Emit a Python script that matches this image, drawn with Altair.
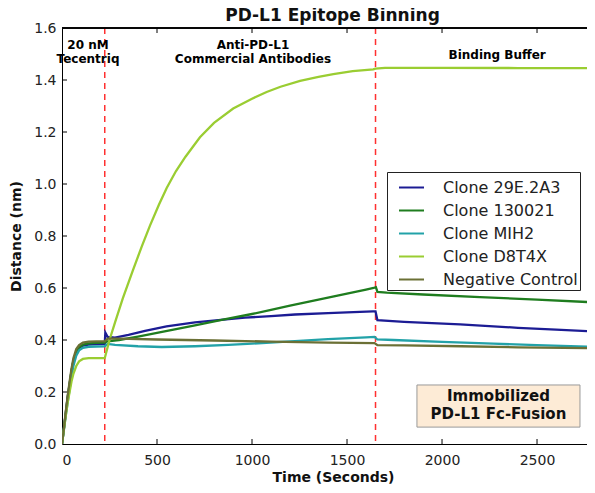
import altair as alt
import pandas as pd

# ---- data ----
series_names = ["Clone 29E.2A3", "Clone 130021", "Clone MIH2", "Clone D8T4X", "Negative Control"]
series_colors = ["#1c1c94", "#1f7d1f", "#22a2a8", "#9acd32", "#6b7035"]

t_29e = [0, 10, 20, 30, 40, 50, 60, 75, 90, 110, 140, 180, 225, 228, 240, 279, 350, 437, 550, 700, 850, 963, 1100, 1226, 1400, 1500, 1637, 1650, 1660, 1800, 2095, 2400, 2600, 2800]
y_29e = [0, 0.06, 0.12, 0.18, 0.23, 0.28, 0.32, 0.355, 0.37, 0.378, 0.382, 0.384, 0.385, 0.428, 0.412, 0.409, 0.42, 0.435, 0.452, 0.468, 0.478, 0.486, 0.492, 0.498, 0.503, 0.506, 0.51, 0.51, 0.476, 0.47, 0.46, 0.447, 0.44, 0.433]

t_130 = [0, 10, 20, 30, 40, 50, 60, 75, 90, 110, 140, 180, 225, 240, 300, 400, 500, 600, 700, 847, 1000, 1100, 1200, 1300, 1400, 1500, 1600, 1640, 1652, 1660, 1709, 1900, 2200, 2500, 2800]
y_130 = [0, 0.06, 0.12, 0.18, 0.23, 0.28, 0.32, 0.355, 0.372, 0.382, 0.387, 0.389, 0.39, 0.395, 0.40, 0.413, 0.427, 0.442, 0.456, 0.478, 0.50, 0.516, 0.532, 0.548, 0.563, 0.578, 0.594, 0.60, 0.603, 0.585, 0.582, 0.575, 0.565, 0.555, 0.545]

t_mih = [0, 10, 20, 30, 40, 50, 60, 75, 90, 110, 140, 180, 225, 240, 279, 400, 525, 700, 875, 1000, 1226, 1400, 1600, 1645, 1660, 1744, 2000, 2270, 2500, 2800]
y_mih = [0, 0.055, 0.11, 0.16, 0.21, 0.26, 0.30, 0.34, 0.36, 0.37, 0.374, 0.375, 0.376, 0.385, 0.381, 0.376, 0.373, 0.376, 0.381, 0.386, 0.396, 0.403, 0.41, 0.412, 0.402, 0.40, 0.393, 0.386, 0.38, 0.374]

t_d8 = [0, 10, 20, 30, 40, 50, 60, 75, 90, 110, 140, 225, 232, 250, 280, 320, 374, 420, 463, 510, 551, 600, 650, 726, 800, 901, 1000, 1077, 1150, 1253, 1350, 1428, 1530, 1638, 1650, 1700, 2000, 2400, 2800]
y_d8 = [0, 0.055, 0.11, 0.16, 0.20, 0.24, 0.27, 0.30, 0.318, 0.327, 0.33, 0.33, 0.35, 0.40, 0.47, 0.56, 0.67, 0.76, 0.84, 0.92, 0.985, 1.05, 1.105, 1.18, 1.235, 1.29, 1.328, 1.354, 1.374, 1.397, 1.412, 1.423, 1.434, 1.441, 1.444, 1.447, 1.447, 1.446, 1.446]

t_neg = [0, 10, 20, 30, 40, 50, 60, 75, 90, 110, 140, 180, 225, 240, 300, 500, 800, 1100, 1400, 1645, 1660, 1800, 2100, 2400, 2800]
y_neg = [0, 0.06, 0.125, 0.185, 0.24, 0.29, 0.33, 0.365, 0.38, 0.39, 0.394, 0.395, 0.395, 0.405, 0.405, 0.402, 0.398, 0.394, 0.39, 0.388, 0.38, 0.379, 0.376, 0.372, 0.368]

phase_bounds = [225, 1650]
x_ticks = [0, 500, 1000, 1500, 2000, 2500]
y_ticks = [0.0, 0.2, 0.4, 0.6, 0.8, 1.0, 1.2, 1.4, 1.6]
x_inner_ticks = [500, 1000, 1500, 2000, 2500]
y_inner_ticks = [0.2, 0.4, 0.6, 0.8, 1.0, 1.2, 1.4]

phase_labels = ["20 nM\nTecentriq", "Anti-PD-L1\nCommercial Antibodies", "Binding Buffer"]
box_label = "Immobilized\nPD-L1 Fc-Fusion"

# ---- build table ----
rows = []
for name, ts, ys in zip(series_names, [t_29e, t_130, t_mih, t_d8, t_neg], [y_29e, y_130, y_mih, y_d8, y_neg]):
    for i, (t, y) in enumerate(zip(ts, ys)):
        rows.append({"series": name, "t": t, "y": y, "order": i})
df = pd.DataFrame(rows)

W, H = 525, 416
FONT = "DejaVu Sans"
xs = alt.Scale(domain=[0, 2763], nice=False, zero=False)
ys = alt.Scale(domain=[0, 1.6], nice=False)

lines = alt.Chart(df).mark_line(strokeWidth=2.3, clip=True).encode(
    x=alt.X("t:Q", scale=xs, title="Time (Seconds)",
            axis=alt.Axis(values=x_ticks, format="d", ticks=False, grid=False, titleX=271)),
    y=alt.Y("y:Q", scale=ys, title="Distance (nm)",
            axis=alt.Axis(values=y_ticks, format=".1f", ticks=False, grid=False)),
    color=alt.Color("series:N", sort=series_names,
                    scale=alt.Scale(domain=series_names, range=series_colors),
                    legend=alt.Legend(orient="none", legendX=325, legendY=144, title=None,
                                      symbolType="stroke", symbolStrokeWidth=2, symbolSize=625,
                                      symbolOffset=9, labelOffset=18,
                                      labelFontSize=16, labelFont=FONT, labelColor="#222",
                                      fillColor="white", strokeColor="#222", padding=2,
                                      rowPadding=1, cornerRadius=0)),
    order="order:Q",
)

vlines = alt.Chart(pd.DataFrame({"t": phase_bounds})).mark_rule(
    color="#ff3030", strokeDash=[6, 5], strokeWidth=1.5
).encode(x=alt.X("t:Q", scale=xs))

tick_df_x = pd.DataFrame({"t": x_inner_ticks})
tick_df_y = pd.DataFrame({"v": y_inner_ticks})
bticks = alt.Chart(tick_df_x).mark_rule(color="black").encode(
    x=alt.X("t:Q", scale=xs), y=alt.value(H), y2=alt.value(H - 5))
tticks = alt.Chart(tick_df_x).mark_rule(color="black").encode(
    x=alt.X("t:Q", scale=xs), y=alt.value(0), y2=alt.value(5))
lticks = alt.Chart(tick_df_y).mark_rule(color="black").encode(
    y=alt.Y("v:Q", scale=ys), x=alt.value(0), x2=alt.value(5))
topline = alt.Chart(tick_df_x).mark_rule(color="black").encode(
    x=alt.value(0), x2=alt.value(W), y=alt.value(0))

base_txt = alt.Chart(pd.DataFrame({"a": [0]}))
t1 = base_txt.mark_text(text=phase_labels[0], lineBreak="\n", font=FONT, fontWeight="bold",
                        fontSize=12, align="center", baseline="middle", lineHeight=14).encode(
    x=alt.datum(137, scale=xs), y=alt.datum(1.535, scale=ys))
t2 = base_txt.mark_text(text=phase_labels[1], lineBreak="\n", font=FONT, fontWeight="bold",
                        fontSize=12, align="center", baseline="middle", lineHeight=14).encode(
    x=alt.datum(1005, scale=xs), y=alt.datum(1.535, scale=ys))
t3 = base_txt.mark_text(text=phase_labels[2], font=FONT, fontWeight="bold",
                        fontSize=12, align="center", baseline="middle").encode(
    x=alt.datum(2290, scale=xs), y=alt.datum(1.497, scale=ys))

box = base_txt.mark_rect(fill="#fdebd6", stroke="#999999", strokeWidth=1).encode(
    x=alt.datum(1868, scale=xs), x2=alt.datum(2726),
    y=alt.datum(0.227, scale=ys), y2=alt.datum(0.065))
boxtxt = base_txt.mark_text(text=box_label, lineBreak="\n", font=FONT, fontWeight="bold",
                            fontSize=15, align="center", baseline="middle", lineHeight=18,
                            color="#111").encode(
    x=alt.datum(2297, scale=xs), y=alt.datum(0.185, scale=ys))

chart = alt.layer(vlines, lines, box, boxtxt, t1, t2, t3, bticks, tticks, lticks, topline).properties(
    width=W, height=H,
    title=alt.Title("PD-L1 Epitope Binning", font=FONT, fontSize=17, fontWeight="bold",
                    color="#111", anchor="middle", offset=0, dx=8, dy=4),
    autosize="none",
    padding={"left": 54, "top": 20, "right": 0, "bottom": 41},
).configure_view(stroke=None).configure_axis(
    labelFont=FONT, labelFontSize=14, labelColor="#222",
    titleFont=FONT, titleFontSize=14, titleFontWeight="bold", titleColor="#111",
    domainColor="black", domainWidth=1,
).configure_axisX(labelPadding=9, titlePadding=3).configure_axisY(labelPadding=6, titlePadding=10)

chart.save("out.html", embed_options={"renderer": "svg", "actions": False})
